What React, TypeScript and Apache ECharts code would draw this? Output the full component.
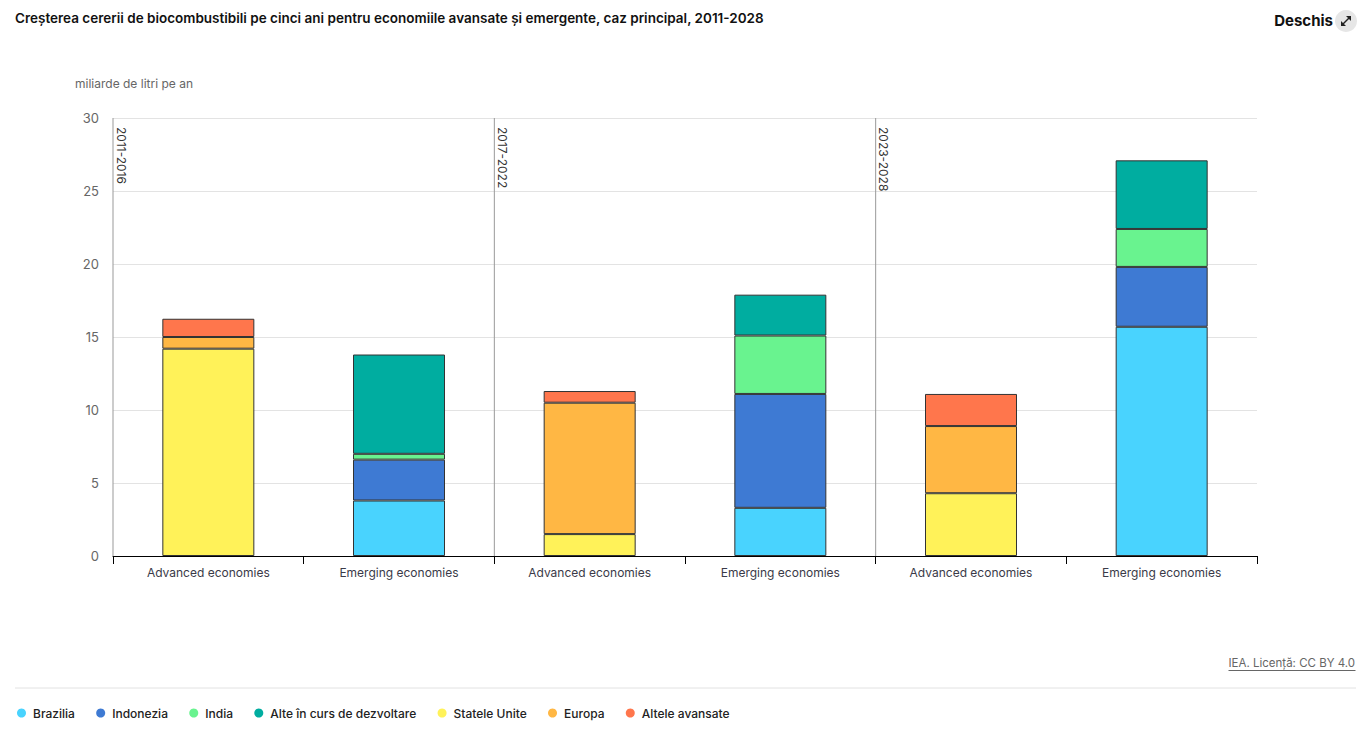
import React, { useEffect, useRef } from "react";
import * as echarts from "echarts";

const categories = [
  "Advanced economies",
  "Emerging economies",
  "Advanced economies",
  "Emerging economies",
  "Advanced economies",
  "Emerging economies",
];
const periods = ["2011-2016", "2017-2022", "2023-2028"];
const periodStarts = [0, 2, 4];

const brazil = [null, 3.8, null, 3.3, null, 15.7];
const indonesia = [null, 2.8, null, 7.8, null, 4.1];
const india = [null, 0.4, null, 4.0, null, 2.6];
const otherDeveloping = [null, 6.8, null, 2.8, null, 4.7];
const unitedStates = [14.2, null, 1.5, null, 4.3, null];
const europe = [0.8, null, 9.0, null, 4.6, null];
const otherAdvanced = [1.25, null, 0.8, null, 2.2, null];

const seriesNames = [
  "Brazilia",
  "Indonezia",
  "India",
  "Alte în curs de dezvoltare",
  "Statele Unite",
  "Europa",
  "Altele avansate",
];
const seriesColors = [
  "#49d3fe",
  "#3e7ad3",
  "#69f38f",
  "#00ada0",
  "#fff259",
  "#ffb744",
  "#ff764c",
];
const seriesData = [brazil, indonesia, india, otherDeveloping, unitedStates, europe, otherAdvanced];

const yTicks = { min: 0, max: 30, interval: 5 };

export default function App() {
  const ref = useRef<HTMLDivElement>(null);
  useEffect(() => {
    if (!ref.current) return;
    const chart = echarts.init(ref.current, null, { renderer: "svg" });
    const font = "Inter, Roboto, 'Noto Sans', sans-serif";
    const bars = seriesNames.map((name, i) => ({
      name,
      type: "bar",
      stack: "total",
      barWidth: 92,
      data: seriesData[i],
      itemStyle: { color: seriesColors[i], borderColor: "#333", borderWidth: 1 },
      emphasis: { disabled: true },
      xAxisIndex: 0,
      yAxisIndex: 0,
    }));
    chart.setOption({
      animation: false,
      textStyle: { fontFamily: font },
      title: {
        text: "Creșterea cererii de biocombustibili pe cinci ani pentru economiile avansate și emergente, caz principal, 2011-2028",
        left: 10,
        top: 6,
        textStyle: { fontSize: 13.5, fontWeight: 600, color: "#111", fontFamily: font },
      },
      grid: { left: 113, right: 114, top: 118, bottom: 176, containLabel: false },
      legend: {
        data: seriesNames,
        left: 12,
        top: 702,
        icon: "circle",
        itemWidth: 13,
        itemHeight: 9,
        itemGap: 21.3,
        itemStyle: { borderWidth: 0 },
        textStyle: { fontSize: 12, color: "#222", fontFamily: font, fontWeight: 500 },
      },
      xAxis: [
        {
          type: "category",
          data: categories,
          axisLine: { lineStyle: { color: "#000", width: 1 } },
          axisTick: { show: true, length: 8, lineStyle: { color: "#000" } },
          axisLabel: { color: "#3a3a48", fontSize: 12, margin: 10, interval: 0 },
          splitLine: { show: false },
        },
        { type: "value", min: 0, max: 6, show: false },
      ],
      yAxis: {
        type: "value",
        min: yTicks.min,
        max: yTicks.max,
        interval: yTicks.interval,
        axisLine: { show: false },
        axisTick: { show: false },
        axisLabel: { color: "#666", fontSize: 13, margin: 14 },
        splitLine: { lineStyle: { color: "#e3e3e3", width: 1 } },
      },
      graphic: [
        {
          type: "text",
          left: 75,
          top: 77,
          style: { text: "miliarde de litri pe an", fill: "#666", font: `12px ${font}` },
        },
        {
          type: "text",
          right: 38,
          top: 13,
          style: { text: "Deschis", fill: "#111", font: `bold 15px ${font}` },
        },
        {
          type: "group",
          right: 14,
          top: 10,
          children: [
            { type: "circle", shape: { cx: 11, cy: 11, r: 11 }, style: { fill: "#e6e6e6" } },
            { type: "line", shape: { x1: 7.5, y1: 14.5, x2: 14.5, y2: 7.5 }, style: { stroke: "#222", lineWidth: 1.5 } },
            { type: "polygon", shape: { points: [[16, 6], [16, 11], [11, 6]] }, style: { fill: "#222" } },
            { type: "polygon", shape: { points: [[6, 16], [6, 11], [11, 16]] }, style: { fill: "#222" } },
          ],
        },
        {
          type: "group",
          right: 13,
          top: 657,
          children: [
            { type: "text", x: 0, y: 0, style: { text: "IEA. Licență: CC BY 4.0", fill: "#666", font: `11.5px ${font}` } },
            { type: "line", shape: { x1: 0, y1: 13.5, x2: 127, y2: 13.5 }, style: { stroke: "#666", lineWidth: 1 } },
          ],
        },
        {
          type: "line",
          shape: { x1: 15, y1: 688, x2: 1356, y2: 688 },
          style: { stroke: "#e2e2e2", lineWidth: 1 },
        },
      ],
      series: [
        ...bars,
        {
          type: "custom",
          name: "periods",
          xAxisIndex: 1,
          yAxisIndex: 0,
          silent: true,
          data: periodStarts.map((s) => [s, yTicks.max]),
          renderItem: (params: any, api: any) => {
            const x = api.value(0);
            const top = api.coord([x, yTicks.max]);
            const bottom = api.coord([x, yTicks.min]);
            return {
              type: "group",
              children: [
                {
                  type: "line",
                  shape: { x1: top[0], y1: top[1], x2: bottom[0], y2: bottom[1] },
                  style: { stroke: "#999", lineWidth: 1 },
                },
                {
                  type: "text",
                  x: top[0] + 2,
                  y: top[1] + 9,
                  rotation: -Math.PI / 2,
                  style: {
                    text: periods[params.dataIndex],
                    fill: "#333",
                    font: `12px ${font}`,
                    align: "left",
                    verticalAlign: "bottom",
                  },
                },
              ],
            };
          },
        },
      ],
    });
    return () => chart.dispose();
  }, []);
  return (
    <div
      ref={ref}
      style={{ position: "fixed", left: 0, top: 0, width: 1371, height: 732, background: "#fff" }}
    />
  );
}
